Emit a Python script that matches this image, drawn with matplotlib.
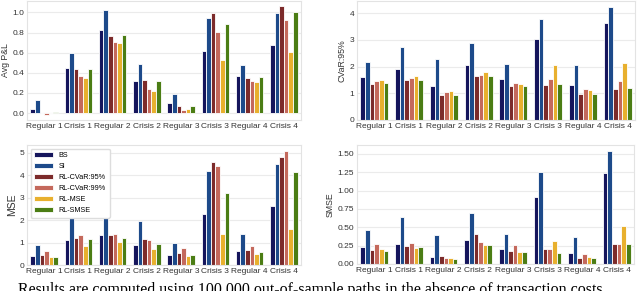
import matplotlib.pyplot as plt
import numpy as np

# scenario labels and strategies
scenarios = ["Regular 1", "Crisis 1", "Regular 2", "Crisis 2",
             "Regular 3", "Crisis 3", "Regular 4", "Crisis 4"]
strategies = ["BS", "SI", "RL-CVaR:95%", "RL-CVaR:99%", "RL-MSE", "RL-SMSE"]
colors = ["#15155c", "#1d4a8a", "#7c2b2b", "#c4695c", "#e8b02e", "#4b7d14"]

# one list per strategy, values per scenario
avg_pnl = {
    "BS":          [0.04, 0.45, 0.83, 0.32, 0.10, 0.62, 0.37, 0.68],
    "SI":          [0.13, 0.60, 1.02, 0.49, 0.19, 0.94, 0.48, 0.99],
    "RL-CVaR:95%": [0.00, 0.44, 0.77, 0.33, 0.07, 0.99, 0.35, 1.06],
    "RL-CVaR:99%": [-0.015, 0.37, 0.71, 0.24, 0.035, 0.81, 0.32, 0.92],
    "RL-MSE":      [0.00, 0.35, 0.70, 0.22, 0.045, 0.53, 0.31, 0.61],
    "RL-SMSE":     [0.015, 0.44, 0.78, 0.32, 0.075, 0.89, 0.36, 1.00],
}
cvar95 = {
    "BS":          [1.62, 1.89, 1.27, 2.07, 1.52, 3.02, 1.32, 3.64],
    "SI":          [2.18, 2.73, 2.28, 2.87, 2.08, 3.78, 2.04, 4.24],
    "RL-CVaR:95%": [1.35, 1.50, 0.95, 1.63, 1.26, 1.32, 0.97, 1.17],
    "RL-CVaR:99%": [1.46, 1.56, 1.03, 1.68, 1.40, 1.52, 1.15, 1.46],
    "RL-MSE":      [1.51, 1.63, 1.10, 1.81, 1.36, 2.04, 1.12, 2.14],
    "RL-SMSE":     [1.37, 1.51, 0.95, 1.63, 1.27, 1.35, 0.98, 1.20],
}
mse = {
    "BS":          [0.42, 1.13, 1.35, 0.91, 0.46, 2.25, 0.63, 2.62],
    "SI":          [0.89, 2.31, 2.80, 1.98, 0.97, 4.20, 1.37, 4.51],
    "RL-CVaR:95%": [0.45, 1.22, 1.34, 1.15, 0.55, 4.57, 0.67, 4.79],
    "RL-CVaR:99%": [0.64, 1.34, 1.38, 1.12, 0.74, 4.39, 0.85, 5.09],
    "RL-MSE":      [0.36, 0.83, 1.03, 0.70, 0.39, 1.38, 0.48, 1.59],
    "RL-SMSE":     [0.37, 1.16, 1.21, 0.92, 0.46, 3.21, 0.60, 4.15],
}
smse = {
    "BS":          [0.235, 0.272, 0.100, 0.326, 0.200, 0.911, 0.145, 1.237],
    "SI":          [0.467, 0.634, 0.394, 0.698, 0.412, 1.260, 0.367, 1.545],
    "RL-CVaR:95%": [0.195, 0.249, 0.113, 0.408, 0.177, 0.208, 0.086, 0.267],
    "RL-CVaR:99%": [0.276, 0.285, 0.077, 0.299, 0.258, 0.208, 0.140, 0.267],
    "RL-MSE":      [0.208, 0.213, 0.077, 0.258, 0.168, 0.308, 0.095, 0.517],
    "RL-SMSE":     [0.177, 0.236, 0.068, 0.258, 0.159, 0.154, 0.082, 0.267],
}

plt.rcParams['font.family'] = ['Liberation Sans', 'DejaVu Sans']

W, H = 640, 291
fig = plt.figure(figsize=(6.4, 2.91), dpi=100)


def box(left, top, right, bottom):
    return [left / W, 1 - bottom / H, (right - left) / W, (bottom - top) / H]


panels = [
    (avg_pnl, "Avg P&L", box(27, 1, 301, 120), None),
    (cvar95, "CVaR:95%", box(357, 1, 635, 120), [0, 1, 2, 3, 4]),
    (mse, "MSE", box(27, 145, 301, 265), [0, 1, 2, 3, 4, 5]),
    (smse, "SMSE", box(357, 145, 634, 264), None),
]

x = np.arange(len(scenarios))
bw = 0.8 / len(strategies)

for i, (data, ylabel, rect, yticks) in enumerate(panels):
    ax = fig.add_axes(rect)
    for j, s in enumerate(strategies):
        ax.bar(x - 0.4 + bw * (j + 0.5), data[s], width=bw, color=colors[j],
               edgecolor="white", linewidth=0.6, label=s, zorder=2)
    ax.set_xlim(-0.5, len(scenarios) - 0.5)
    ax.set_xticks(x)
    ax.set_xticklabels(scenarios)
    if yticks is not None:
        ax.set_yticks(yticks)
    if data is smse:
        ax.set_yticks([0, 0.25, 0.5, 0.75, 1.0, 1.25, 1.5])
        ax.set_yticklabels(["0.00", "0.25", "0.50", "0.75", "1.00", "1.25", "1.50"])
    if data is avg_pnl:
        ax.set_yticks([0, 0.2, 0.4, 0.6, 0.8, 1.0])
    ax.tick_params(axis="both", length=0, labelsize=6, colors="#333333", pad=2)
    ax.set_ylabel(ylabel, fontsize=7.5 if ylabel == "MSE" else 6.3,
                  color="#333333", labelpad=2)
    ax.grid(axis="y", color="#ebebeb", linewidth=0.8, zorder=0)
    ax.set_axisbelow(True)
    for sp in ax.spines.values():
        sp.set_color("#e3e3e3")
        sp.set_linewidth(0.8)
    if ylabel == "MSE":
        ax.legend(loc="upper left", fontsize=5.2, frameon=True, framealpha=1,
                  edgecolor="#dddddd", handlelength=2.6, handleheight=0.6,
                  borderpad=0.5, labelspacing=0.55, handletextpad=0.8)

fig.text(18 / W, 1 - 282 / H,
         "Results are computed using 100,000 out-of-sample paths in the absence of transaction costs",
         family=["Liberation Serif", "DejaVu Serif"], fontsize=11.5, va="top", ha="left")

fig.savefig("out.png", dpi=100)
